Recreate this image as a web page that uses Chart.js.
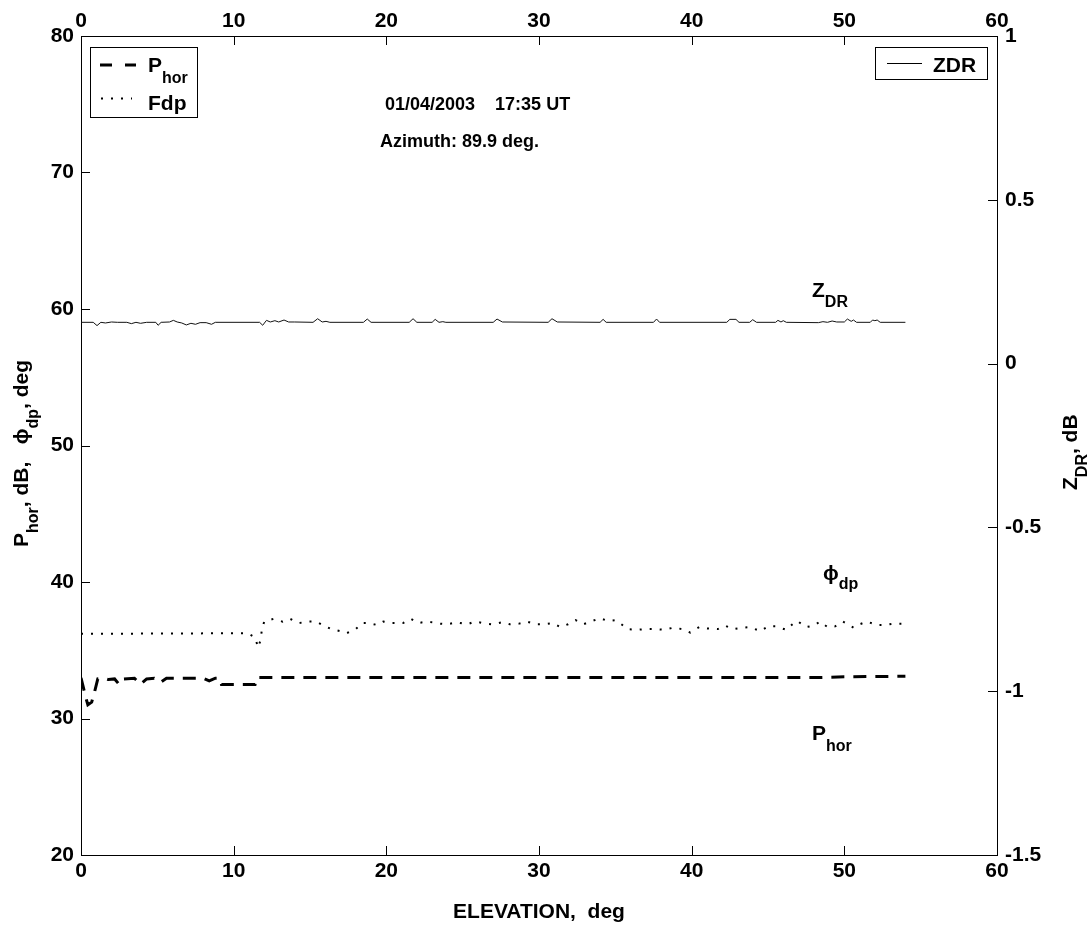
<!DOCTYPE html>
<html>
<head>
<meta charset="utf-8">
<script src="https://cdn.jsdelivr.net/npm/chart.js@4.4.1/dist/chart.umd.min.js"></script>
<style>
  html, body { margin: 0; padding: 0; background: #fff; }
</style>
</head>
<body>
<canvas id="chart" width="1091" height="937"></canvas>
<script>
// P_hor (dashed), elevation in deg / value in dB
const horElev = [0, 0.15, 0.3, 0.45, 0.7, 0.9, 1.1, 1.5, 1.8, 2.2, 2.5, 2.8, 3.5, 3.9, 4.3, 4.8, 5.2, 5.6, 8.0, 8.4, 8.8, 9.1, 9.2, 11.4, 11.5, 48.5, 50, 54];
const horVal  = [32.97, 32.3, 31.6, 31.0, 31.2, 32.0, 32.9, 32.95, 32.85, 32.9, 32.5, 32.9, 32.95, 32.5, 32.9, 32.95, 32.65, 32.95, 32.95, 32.75, 32.95, 32.95, 32.5, 32.5, 33.0, 33.0, 33.05, 33.1];

// phi_dp (dotted), deg
const phiElev = [0, 10.9, 11.4, 11.6, 11.75, 11.85, 12.0, 12.6, 13.2, 13.7, 14.3, 14.9, 15.4, 15.9, 16.4, 17.0, 17.4, 18.0, 18.4, 18.8, 19.4, 19.8, 20.4, 21.1, 21.6, 22.1, 22.7, 23.5, 24.0, 24.6, 25.3, 25.8, 26.3, 26.9, 27.6, 28.1, 28.7, 29.2, 29.8, 30.3, 30.9, 31.4, 31.9, 32.4, 32.9, 33.5, 34.0, 34.5, 35.0, 35.4, 35.8, 36.4, 37.0, 37.6, 38.2, 38.8, 39.4, 39.9, 40.5, 41.0, 41.7, 42.2, 42.7, 43.3, 43.8, 44.5, 45.0, 45.5, 46.2, 46.6, 46.9, 47.5, 48.0, 48.4, 48.9, 49.4, 49.9, 50.6, 51.0, 51.5, 52.1, 52.6, 53.2, 53.8, 54.0];
const phiVal  = [36.2, 36.25, 35.95, 35.2, 35.7, 36.5, 37.1, 37.3, 37.1, 37.3, 37.0, 37.1, 37.1, 36.8, 36.55, 36.4, 36.25, 36.55, 37.0, 37.0, 36.85, 37.1, 37.0, 37.0, 37.3, 37.0, 37.1, 36.95, 36.9, 37.05, 36.9, 37.1, 37.0, 36.9, 37.05, 36.9, 36.95, 37.1, 36.9, 36.9, 37.0, 36.7, 36.9, 37.2, 36.9, 37.15, 37.35, 37.15, 37.2, 36.9, 36.55, 36.5, 36.55, 36.55, 36.5, 36.65, 36.55, 36.3, 36.7, 36.6, 36.55, 36.8, 36.55, 36.65, 36.7, 36.4, 36.75, 36.75, 36.5, 36.9, 37.15, 36.7, 36.8, 37.1, 36.7, 36.75, 37.1, 36.65, 36.9, 37.1, 36.85, 36.85, 36.95, 36.95, 37.0];

// ZDR (solid, right axis), dB
const zdrElev = [0, 0.8, 1.05, 1.3, 1.6, 2.0, 2.4, 3.0, 3.3, 3.6, 3.9, 4.3, 4.9, 5.05, 5.25, 5.8, 6.05, 6.3, 6.6, 6.9, 7.2, 7.5, 7.8, 8.2, 8.55, 8.8, 11.7, 11.9, 12.15, 12.4, 12.7, 12.95, 13.3, 13.6, 14.0, 15.2, 15.5, 15.8, 16.05, 16.3, 18.5, 18.75, 19.0, 21.5, 21.75, 22.0, 23.0, 23.2, 23.45, 23.7, 23.9, 27.0, 27.25, 27.6, 30.6, 30.85, 31.2, 34.0, 34.2, 34.4, 37.5, 37.7, 37.9, 42.3, 42.5, 42.9, 43.1, 43.8, 44.0, 44.25, 45.5, 45.65, 45.85, 46.0, 46.2, 48.3, 48.6, 48.9, 49.2, 49.5, 50.0, 50.2, 50.45, 50.6, 50.8, 51.7, 51.85, 52.0, 52.15, 52.35, 54.0];
const zdrVal  = [0.126, 0.126, 0.116, 0.126, 0.124, 0.127, 0.126, 0.126, 0.122, 0.126, 0.123, 0.126, 0.126, 0.117, 0.126, 0.127, 0.132, 0.127, 0.124, 0.118, 0.123, 0.12, 0.125, 0.125, 0.12, 0.126, 0.126, 0.117, 0.132, 0.127, 0.131, 0.127, 0.133, 0.127, 0.127, 0.126, 0.137, 0.127, 0.129, 0.126, 0.126, 0.136, 0.126, 0.126, 0.137, 0.126, 0.126, 0.135, 0.126, 0.128, 0.126, 0.126, 0.136, 0.127, 0.126, 0.137, 0.127, 0.126, 0.135, 0.126, 0.126, 0.136, 0.126, 0.126, 0.135, 0.135, 0.126, 0.126, 0.134, 0.126, 0.126, 0.132, 0.127, 0.131, 0.126, 0.125, 0.128, 0.126, 0.13, 0.127, 0.127, 0.136, 0.129, 0.133, 0.126, 0.126, 0.133, 0.131, 0.133, 0.126, 0.126];

const elevTicks = [0, 10, 20, 30, 40, 50, 60];
const leftTicks = [20, 30, 40, 50, 60, 70, 80];
const rightTicks = [-1.5, -1, -0.5, 0, 0.5, 1];

const FONT = "'Liberation Sans', Arial, sans-serif";
const pts = (xs, ys) => xs.map((x, i) => ({x: x, y: ys[i]}));

// draws text with [sub] parts, returns width
function rich(ctx, parts, x, y, size, subSize, drop) {
    let cx = x;
    parts.forEach(p => {
        const sub = Array.isArray(p);
        const txt = sub ? p[0] : p;
        ctx.font = 'bold ' + (sub ? subSize : size) + 'px ' + FONT;
        ctx.fillText(txt, cx, sub ? y + drop : y);
        cx += ctx.measureText(txt).width;
    });
    return cx - x;
}

const decor = {
    id: 'decor',
    afterDraw(chart) {
        const ctx = chart.ctx, a = chart.chartArea;
        ctx.save();
        ctx.strokeStyle = '#000';
        ctx.fillStyle = '#000';
        ctx.lineWidth = 1;

        // inward tick marks
        const L = 9;
        ctx.beginPath();
        chart.scales.x.ticks.forEach(t => {
            const p = Math.round(chart.scales.x.getPixelForValue(t.value)) + 0.5;
            ctx.moveTo(p, a.bottom); ctx.lineTo(p, a.bottom - L);
        });
        chart.scales.x2.ticks.forEach(t => {
            const p = Math.round(chart.scales.x2.getPixelForValue(t.value)) + 0.5;
            ctx.moveTo(p, a.top); ctx.lineTo(p, a.top + L);
        });
        chart.scales.y.ticks.forEach(t => {
            const p = Math.round(chart.scales.y.getPixelForValue(t.value)) + 0.5;
            ctx.moveTo(a.left, p); ctx.lineTo(a.left + L, p);
        });
        chart.scales.y2.ticks.forEach(t => {
            const p = Math.round(chart.scales.y2.getPixelForValue(t.value)) + 0.5;
            ctx.moveTo(a.right, p); ctx.lineTo(a.right - L, p);
        });
        ctx.stroke();

        ctx.textBaseline = 'alphabetic';
        ctx.textAlign = 'left';

        // left legend
        ctx.strokeRect(90.5, 47.5, 107, 70);
        ctx.lineWidth = 3;
        ctx.setLineDash([12, 13]);
        ctx.beginPath(); ctx.moveTo(100, 65); ctx.lineTo(136, 65); ctx.stroke();
        ctx.lineWidth = 2;
        ctx.setLineDash([2, 8]);
        ctx.beginPath(); ctx.moveTo(101, 98.5); ctx.lineTo(132, 98.5); ctx.stroke();
        ctx.setLineDash([]);
        ctx.lineWidth = 1;
        rich(ctx, ['P', ['hor']], 148, 72, 21, 16, 11);
        rich(ctx, ['Fdp'], 148, 110, 21, 16, 0);

        // right legend
        ctx.strokeRect(875.5, 47.5, 112, 32);
        ctx.beginPath(); ctx.moveTo(887, 63.5); ctx.lineTo(922, 63.5); ctx.stroke();
        rich(ctx, ['ZDR'], 933, 72, 21, 16, 0);

        // header texts
        rich(ctx, ['01/04/2003    17:35 UT'], 385, 110, 18, 14, 0);
        rich(ctx, ['Azimuth: 89.9 deg.'], 380, 147, 18, 14, 0);

        // curve labels
        rich(ctx, ['Z', ['DR']], 812, 297, 21, 16, 10);
        rich(ctx, ['\u03d5', ['dp']], 823, 580, 21, 16, 9);
        rich(ctx, ['P', ['hor']], 812, 740, 21, 16, 11);

        // x title
        ctx.font = 'bold 21px ' + FONT;
        ctx.textAlign = 'center';
        ctx.fillText('ELEVATION,  deg', (a.left + a.right) / 2, 918);
        ctx.textAlign = 'left';

        // left y title
        ctx.save();
        ctx.translate(28, 547);
        ctx.rotate(-Math.PI / 2);
        rich(ctx, ['P', ['hor'], ', dB,   ', '\u03d5', ['dp'], ', deg'], 0, 0, 21, 16, 10);
        ctx.restore();

        // right y title
        ctx.save();
        ctx.translate(1077, 490);
        ctx.rotate(-Math.PI / 2);
        rich(ctx, ['Z', ['DR'], ', dB'], 0, 0, 21, 16, 10);
        ctx.restore();

        ctx.restore();
    }
};

const tickFont = {family: FONT, size: 21, weight: 'bold'};
const listTicks = (arr) => (scale) => { scale.ticks = arr.map(v => ({value: v})); };
const plainNum = (v) => String(v);

new Chart(document.getElementById('chart'), {
    type: 'line',
    data: {
        datasets: [
            {
                label: 'ZDR', data: pts(zdrElev, zdrVal), yAxisID: 'y2', xAxisID: 'x',
                borderColor: '#111', borderWidth: 1, pointRadius: 0, tension: 0
            },
            {
                label: 'Fdp', data: pts(phiElev, phiVal), yAxisID: 'y', xAxisID: 'x',
                borderColor: '#000', borderWidth: 2, borderDash: [2, 8], pointRadius: 0, tension: 0
            },
            {
                label: 'P hor', data: pts(horElev, horVal), yAxisID: 'y', xAxisID: 'x',
                borderColor: '#000', borderWidth: 3, borderDash: [13, 9], borderCapStyle: 'butt', pointRadius: 0, tension: 0
            }
        ]
    },
    options: {
        responsive: false,
        animation: false,
        layout: {padding: 0},
        plugins: {legend: {display: false}, tooltip: {enabled: false}},
        scales: {
            x: {
                type: 'linear', position: 'bottom', min: 0, max: 60,
                afterBuildTicks: listTicks(elevTicks),
                afterFit: (s) => { s.height = 82; },
                grid: {display: false, drawTicks: false},
                border: {display: true, color: '#000', width: 1},
                ticks: {color: '#000', font: tickFont, padding: 4, maxRotation: 0, callback: plainNum}
            },
            x2: {
                type: 'linear', position: 'top', min: 0, max: 60,
                afterBuildTicks: listTicks(elevTicks),
                afterFit: (s) => { s.height = 36; },
                grid: {display: false, drawTicks: false},
                border: {display: true, color: '#000', width: 1},
                ticks: {color: '#000', font: tickFont, padding: 2, maxRotation: 0, callback: plainNum}
            },
            y: {
                type: 'linear', position: 'left', min: 20, max: 80,
                afterBuildTicks: listTicks(leftTicks),
                afterFit: (s) => { s.width = 81; },
                grid: {display: false, drawTicks: false},
                border: {display: true, color: '#000', width: 1},
                ticks: {color: '#000', font: tickFont, padding: 7, callback: plainNum}
            },
            y2: {
                type: 'linear', position: 'right', min: -1.5, max: 1,
                afterBuildTicks: listTicks(rightTicks),
                afterFit: (s) => { s.width = 94; },
                grid: {display: false, drawTicks: false},
                border: {display: true, color: '#000', width: 1},
                ticks: {color: '#000', font: tickFont, padding: 8, callback: plainNum}
            }
        }
    },
    plugins: [decor]
});
</script>
</body>
</html>
